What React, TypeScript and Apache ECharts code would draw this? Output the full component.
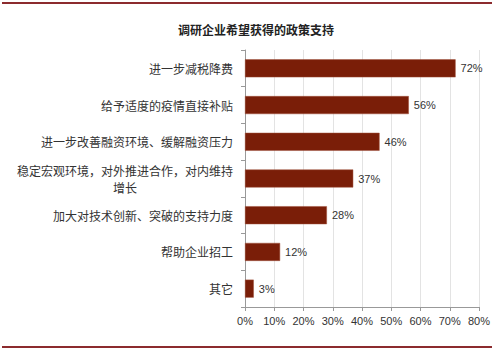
import React, { useEffect, useRef } from "react";
import * as echarts from "echarts";

const title = "调研企业希望获得的政策支持";
const categories = [
  "进一步减税降费",
  "给予适度的疫情直接补贴",
  "进一步改善融资环境、缓解融资压力",
  "稳定宏观环境，对外推进合作，对内维持\n增长",
  "加大对技术创新、突破的支持力度",
  "帮助企业招工",
  "其它",
];
const values = [72, 56, 46, 37, 28, 12, 3];
const xTicks = [0, 10, 20, 30, 40, 50, 60, 70, 80];

export default function App() {
  const ref = useRef<HTMLDivElement>(null);
  useEffect(() => {
    const chart = echarts.init(ref.current!, null, { renderer: "svg" });
    const cjk = "'Noto Sans CJK SC', sans-serif";
    chart.setOption({
      animation: false,
      backgroundColor: "#ffffff",
      title: {
        text: title,
        left: 251,
        textAlign: "center",
        top: 18,
        textStyle: { fontFamily: cjk, fontSize: 12, fontWeight: "bold", color: "#222" },
      },
      graphic: [
        { type: "line", shape: { x1: 2, y1: 3, x2: 492, y2: 3 }, style: { stroke: "#8c2b2e", lineWidth: 2 } },
        { type: "line", shape: { x1: 2, y1: 347, x2: 492, y2: 347 }, style: { stroke: "#8c2b2e", lineWidth: 2 } },
      ],
      grid: { left: 245, right: 21, top: 50, bottom: 44 },
      xAxis: {
        type: "value",
        min: xTicks[0],
        max: xTicks[xTicks.length - 1],
        interval: 10,
        axisLine: { show: true, lineStyle: { color: "#999" } },
        axisTick: { show: true, length: 4, lineStyle: { color: "#999" } },
        splitLine: { show: true, lineStyle: { color: "#e3e3e3" } },
        axisLabel: {
          formatter: (v: number) => v + "%",
          fontFamily: "'Liberation Sans', sans-serif",
          fontSize: 11,
          color: "#333",
          margin: 8,
        },
      },
      yAxis: {
        type: "category",
        inverse: true,
        data: categories,
        axisLine: { show: true, lineStyle: { color: "#999" } },
        axisTick: { show: true, length: 4, lineStyle: { color: "#999" } },
        axisLabel: {
          fontFamily: cjk,
          fontSize: 12,
          color: "#333",
          margin: 12,
          lineHeight: 17,
          formatter: (v: string) => {
            if (v.indexOf("\n") >= 0) {
              const [a, b] = v.split("\n");
              return "{a|" + a + "}\n{b|" + b + "}";
            }
            return v;
          },
          rich: {
            a: { fontFamily: cjk, fontSize: 12, color: "#333", lineHeight: 17 },
            b: { fontFamily: cjk, fontSize: 12, color: "#333", lineHeight: 17, width: 216, align: "center" },
          },
        },
      },
      series: [
        {
          type: "bar",
          data: values,
          barWidth: 18,
          itemStyle: { color: "#7a1e08", borderColor: "#a0503a", borderWidth: 0.5 },
          label: {
            show: true,
            position: "right",
            distance: 5,
            formatter: (p: any) => p.value + "%",
            fontFamily: "'Liberation Sans', sans-serif",
            fontSize: 11,
            color: "#333",
          },
        },
      ],
    });
    return () => chart.dispose();
  }, []);
  return <div ref={ref} style={{ width: 500, height: 351, position: "absolute", left: 0, top: 0 }} />;
}
